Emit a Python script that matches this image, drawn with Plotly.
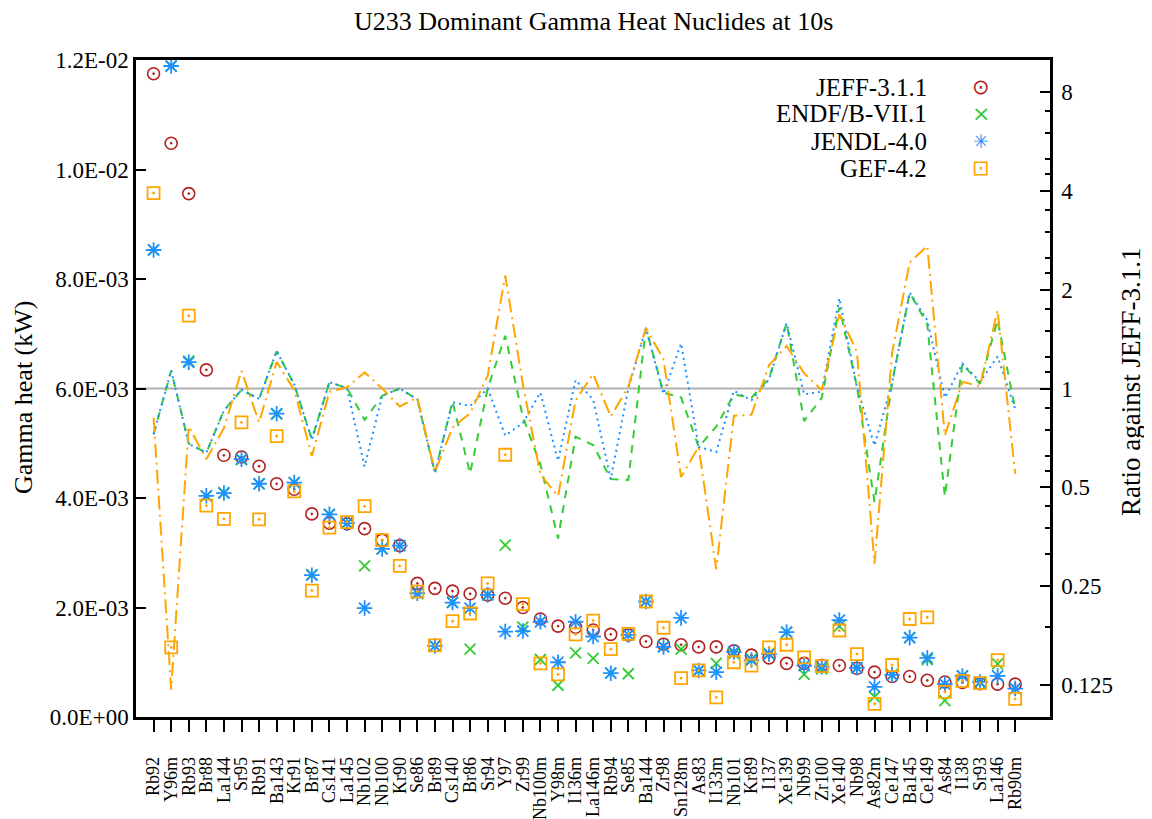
import plotly.graph_objects as go

# ---------------- data ----------------
nuclides = ["Rb92", "Y96m", "Rb93", "Br88", "La144", "Sr95", "Rb91", "Ba143", "Kr91", "Br87",
            "Cs141", "La145", "Nb102", "Nb100", "Kr90", "Se86", "Br89", "Cs140", "Br86", "Sr94",
            "Y97", "Zr99", "Nb100m", "Y98m", "I136m", "La146m", "Rb94", "Se85", "Ba144", "Zr98",
            "Sn128m", "As83", "I133m", "Nb101", "Kr89", "I137", "Xe139", "Nb99", "Zr100", "Xe140",
            "Nb98", "As82m", "Ce147", "Ba145", "Ce149", "As84", "I138", "Sr93", "La146", "Rb90m"]

jeff = [0.01175, 0.01048, 0.00956, 0.00634, 0.00478, 0.00475, 0.00458, 0.00426, 0.00416, 0.00371,
        0.00354, 0.00353, 0.00344, 0.00323, 0.00313, 0.00244, 0.00235, 0.00230, 0.00225, 0.00223,
        0.00217, 0.00200, 0.00179, 0.00166, 0.00164, 0.00159, 0.00151, 0.00150, 0.00138, 0.00133,
        0.00132, 0.00128, 0.00128, 0.00121, 0.00113, 0.00108, 0.00098, 0.00098, 0.00094, 0.00094,
        0.00089, 0.00082, 0.00074, 0.00074, 0.00067, 0.00064, 0.00063, 0.00061, 0.00060, 0.00060]

endf = [0.00853, 0.01189, 0.00650, 0.00404, 0.00410, 0.00470, 0.00426, 0.00553, 0.00428, 0.00260,
        0.00370, 0.00354, 0.00276, 0.00307, 0.00313, 0.00226, 0.00130, 0.00210, 0.00124, 0.00223,
        0.00314, 0.00164, 0.00105, 0.00058, 0.00117, 0.00107, 0.00080, 0.00079, 0.00211, 0.00129,
        0.00124, 0.00085, 0.00098, 0.00116, 0.00106, 0.00116, 0.00155, 0.00078, 0.00088, 0.00166,
        0.00090, 0.00037, 0.00077, 0.00145, 0.00105, 0.00030, 0.00075, 0.00063, 0.00097, 0.00052]

jendl = [0.00853, 0.01189, 0.00648, 0.00404, 0.00409, 0.00471, 0.00426, 0.00554, 0.00428, 0.00259,
         0.00370, 0.00354, 0.00199, 0.00307, 0.00313, 0.00226, 0.00130, 0.00209, 0.00199, 0.00223,
         0.00156, 0.00157, 0.00174, 0.00100, 0.00174, 0.00147, 0.00080, 0.00150, 0.00211, 0.00128,
         0.00181, 0.00085, 0.00082, 0.00119, 0.00104, 0.00115, 0.00155, 0.00094, 0.00092, 0.00177,
         0.00090, 0.00055, 0.00077, 0.00145, 0.00108, 0.00060, 0.00075, 0.00064, 0.00075, 0.00052]

gef = [0.00957, 0.00127, 0.00733, 0.00386, 0.00362, 0.00538, 0.00361, 0.00513, 0.00412, 0.00231,
       0.00346, 0.00356, 0.00385, 0.00323, 0.00276, 0.00229, 0.00131, 0.00175, 0.00189, 0.00244,
       0.00479, 0.00206, 0.00098, 0.00078, 0.00151, 0.00176, 0.00124, 0.00152, 0.00211, 0.00163,
       0.00071, 0.00085, 0.00036, 0.00100, 0.00094, 0.00127, 0.00132, 0.00109, 0.00093, 0.00158,
       0.00115, 0.00024, 0.00095, 0.00179, 0.00182, 0.00046, 0.00066, 0.00062, 0.00104, 0.00033]

heat_ticks = [0.0, 0.002, 0.004, 0.006, 0.008, 0.010, 0.012]
heat_tick_labels = ["0.0E+00", "2.0E-03", "4.0E-03", "6.0E-03", "8.0E-03", "1.0E-02", "1.2E-02"]
ratio_ticks = [0.125, 0.25, 0.5, 1, 2, 4, 8]
ratio_tick_labels = ["0.125", "0.25", "0.5", "1", "2", "4", "8"]
ratio_minor_ticks = [0.1875, 0.3125, 0.375, 0.4375, 0.5625, 0.625, 0.75, 0.875,
                     1.125, 1.25, 1.5, 1.75, 2.25, 2.5, 3, 3.5, 4.5, 5, 6, 7]

series_names = ["JEFF-3.1.1", "ENDF/B-VII.1", "JENDL-4.0", "GEF-4.2"]

# ---------------- styles ----------------
FONT = "Liberation Serif"
RED = "#B22222"
GREEN = "#33CC33"
BLUE = "#1E90FF"
ORANGE = "#FFA500"

ratio_endf = [e / j for e, j in zip(endf, jeff)]
ratio_jendl = [e / j for e, j in zip(jendl, jeff)]
ratio_gef = [e / j for e, j in zip(gef, jeff)]

fig = go.Figure()

# reference line at ratio 1
fig.add_shape(type="line", xref="paper", x0=0, x1=1, yref="y2", y0=1, y1=1,
              line=dict(color="#B0B0B0", width=2), layer="below")

# heat markers (left axis)
fig.add_trace(go.Scatter(x=nuclides, y=jeff, mode="markers", name=series_names[0],
                         marker=dict(symbol="circle-open-dot", size=12, color=RED,
                                     line=dict(width=1.6, color=RED))))
fig.add_trace(go.Scatter(x=nuclides, y=endf, mode="markers", name=series_names[1],
                         marker=dict(symbol="x-thin-open", size=11, color=GREEN,
                                     line=dict(width=1.8, color=GREEN))))
fig.add_trace(go.Scatter(x=nuclides, y=jendl, mode="markers", name=series_names[2],
                         marker=dict(symbol="asterisk-open", size=13, color=BLUE,
                                     line=dict(width=1.8, color=BLUE))))
fig.add_trace(go.Scatter(x=nuclides, y=gef, mode="markers", name=series_names[3],
                         marker=dict(symbol="square-open-dot", size=12, color=ORANGE,
                                     line=dict(width=1.8, color=ORANGE))))

# ratio lines (right axis)
fig.add_trace(go.Scatter(x=nuclides, y=ratio_endf, mode="lines", yaxis="y2",
                         name=series_names[1] + " ratio",
                         line=dict(color=GREEN, width=2, dash="8px,7px")))
fig.add_trace(go.Scatter(x=nuclides, y=ratio_jendl, mode="lines", yaxis="y2",
                         name=series_names[2] + " ratio",
                         line=dict(color=BLUE, width=2, dash="2px,4px")))
fig.add_trace(go.Scatter(x=nuclides, y=ratio_gef, mode="lines", yaxis="y2",
                         name=series_names[3] + " ratio",
                         line=dict(color=ORANGE, width=2, dash="14px,5px,2px,5px")))

# page offset (default body margin of the html page)
OFF = 8
W, H = 1144, 811
L, R, T, B = 128, 102, 52, 102
pw = W - L - R
ph = H - T - B


def px_x(sx):
    return (sx - OFF - L) / pw


def px_y(sy):
    return (H - B - (sy - OFF)) / ph


annotations = []
# legend (text left, symbol right, as in the original)
legend_rows = [87, 113.5, 141, 168]
legend_glyphs = ["\u2299", "\u00d7", "\u2733", "\u22a1"]
legend_sizes = [21, 22, 19, 21]
legend_colors = [RED, GREEN, BLUE, ORANGE]
for name, gy, glyph, gs, col in zip(series_names, legend_rows, legend_glyphs,
                                    legend_sizes, legend_colors):
    annotations.append(dict(text=name, xref="paper", yref="paper", x=px_x(929), y=px_y(gy),
                            xanchor="right", yanchor="middle", showarrow=False,
                            font=dict(family=FONT, size=25, color="black")))
    annotations.append(dict(text=glyph, xref="paper", yref="paper", x=px_x(981), y=px_y(gy),
                            xanchor="center", yanchor="middle", showarrow=False,
                            font=dict(family="DejaVu Sans", size=gs, color=col)))

# axis titles
annotations.append(dict(text="Gamma heat (kW)", xref="paper", yref="paper",
                        x=px_x(23), y=px_y(398), textangle=-90, showarrow=False,
                        xanchor="center", yanchor="middle",
                        font=dict(family=FONT, size=26, color="black")))
annotations.append(dict(text="Ratio against JEFF-3.1.1", xref="paper", yref="paper",
                        x=px_x(1131), y=px_y(382), textangle=-90, showarrow=False,
                        xanchor="center", yanchor="middle",
                        font=dict(family=FONT, size=27, color="black")))

# title as an annotation so it sits fully inside the figure
annotations.append(dict(text="U233 Dominant Gamma Heat Nuclides at 10s", xref="paper",
                        yref="paper", x=0.5, y=px_y(5), xanchor="center", yanchor="top",
                        showarrow=False, font=dict(family=FONT, size=26, color="black")))

fig.update_layout(
    width=W, height=H,
    paper_bgcolor="white", plot_bgcolor="white",
    margin=dict(l=L, r=R, t=T, b=B, autoexpand=False),
    showlegend=False,
    font=dict(family=FONT, color="black"),
    annotations=annotations,
    xaxis=dict(
        type="category", range=[-1, 50.98], categoryorder="array", categoryarray=nuclides,
        tickmode="array", tickvals=nuclides, ticktext=nuclides,
        tickangle=-90, ticks="outside", ticklen=12, tickwidth=2, tickcolor="black",
        showline=True, linewidth=2.5, linecolor="black", mirror=True,
        showgrid=False, zeroline=False,
        tickfont=dict(family=FONT, size=18, color="black"),
        ticklabelstandoff=18,
    ),
    yaxis=dict(
        range=[0, 0.012], tickmode="array", tickvals=heat_ticks, ticktext=heat_tick_labels,
        ticks="inside", ticklen=10, tickwidth=2, tickcolor="black",
        showline=True, linewidth=2.5, linecolor="black", mirror=False,
        showgrid=False, zeroline=False,
        tickfont=dict(family=FONT, size=23, color="black"),
        ticklabelstandoff=0,
    ),
    yaxis2=dict(
        overlaying="y", side="right", type="log", range=[-1, 1],
        tickmode="array", tickvals=ratio_ticks, ticktext=ratio_tick_labels,
        ticks="inside", ticklen=10, tickwidth=2, tickcolor="black",
        minor=dict(tickmode="array", tickvals=ratio_minor_ticks, ticks="inside",
                   ticklen=5, tickwidth=1.5, tickcolor="black", showgrid=False),
        showline=True, linewidth=2.5, linecolor="black",
        showgrid=False, zeroline=False,
        tickfont=dict(family=FONT, size=23, color="black"),
        ticklabelstandoff=4,
    ),
)

fig.write_html("out.html")
